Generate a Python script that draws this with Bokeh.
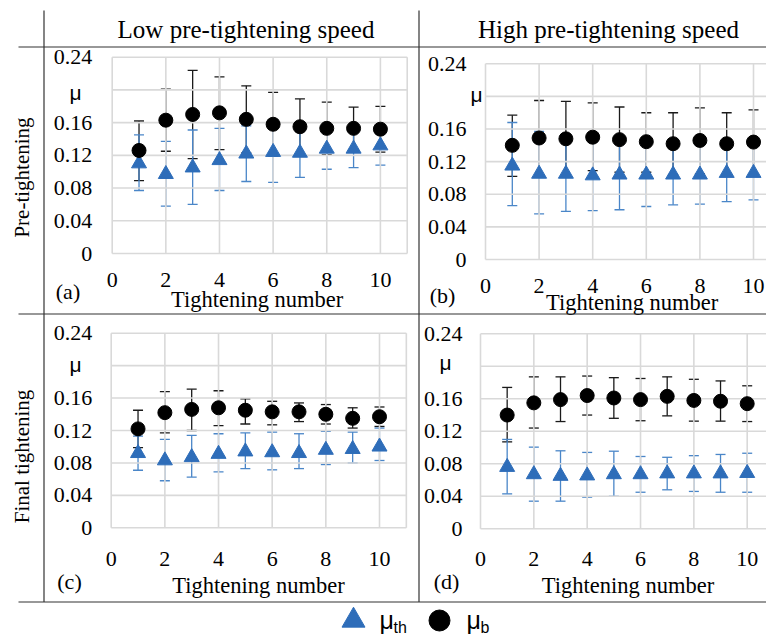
import math
from bokeh.plotting import figure
from bokeh.models import (Range1d, FixedTicker, Whisker, TeeHead, ColumnDataSource,
                          LinearAxis, NumeralTickFormatter)
from bokeh.embed import file_html
from bokeh.resources import INLINE
from bokeh.core.properties import value

# ---------------- data ----------------
tightening = [1, 2, 3, 4, 5, 6, 7, 8, 9, 10]
x_ticks = [0, 2, 4, 6, 8, 10]
x_tick_labels = ["0", "2", "4", "6", "8", "10"]
y_ticks = [0, 0.04, 0.08, 0.12, 0.16, 0.24]
y_tick_labels = ["0", "0.04", "0.08", "0.12", "0.16", "0.24"]
y_grid = [0, 0.04, 0.08, 0.12, 0.16, 0.2, 0.24]
col_titles = ["Low pre-tightening speed", "High pre-tightening speed"]
row_titles = ["Pre-tightening", "Final tightening"]
panel_tags = ["(a)", "(b)", "(c)", "(d)"]
x_title = "Tightening number"
y_symbol = "μ"
legend_subs = ["th", "b"]

# (a) low speed, pre-tightening
a_th_mean = [0.110, 0.097, 0.105, 0.114, 0.122, 0.124, 0.123, 0.128, 0.128, 0.132]
a_th_lo = [0.077, 0.058, 0.060, 0.077, 0.088, 0.087, 0.093, 0.103, 0.105, 0.108]
a_th_up = [0.145, 0.137, 0.151, 0.153, 0.156, 0.158, 0.153, 0.153, 0.151, 0.156]
a_b_mean = [0.126, 0.163, 0.170, 0.172, 0.164, 0.158, 0.155, 0.153, 0.153, 0.152]
a_b_lo = [0.089, 0.125, 0.116, 0.127, 0.123, 0.119, 0.121, 0.121, 0.127, 0.124]
a_b_up = [0.162, 0.201, 0.224, 0.216, 0.205, 0.197, 0.189, 0.185, 0.179, 0.180]

# (b) high speed, pre-tightening
b_th_mean = [0.115, 0.105, 0.105, 0.103, 0.104, 0.104, 0.104, 0.104, 0.106, 0.106]
b_th_lo = [0.066, 0.056, 0.059, 0.060, 0.061, 0.065, 0.067, 0.068, 0.071, 0.073]
b_th_up = [0.168, 0.157, 0.150, 0.146, 0.146, 0.143, 0.141, 0.140, 0.141, 0.139]
b_b_mean = [0.140, 0.149, 0.148, 0.150, 0.147, 0.1445, 0.142, 0.146, 0.142, 0.144]
b_b_lo = [0.102, 0.103, 0.102, 0.109, 0.107, 0.107, 0.104, 0.105, 0.104, 0.105]
b_b_up = [0.177, 0.195, 0.194, 0.192, 0.187, 0.180, 0.180, 0.186, 0.180, 0.1835]

# (c) low speed, final tightening
c_th_mean = [0.092, 0.083, 0.087, 0.091, 0.094, 0.093, 0.092, 0.096, 0.097, 0.100]
c_th_lo = [0.071, 0.058, 0.0625, 0.069, 0.073, 0.0715, 0.073, 0.078, 0.080, 0.083]
c_th_up = [0.113, 0.109, 0.114, 0.116, 0.117, 0.118, 0.116, 0.119, 0.118, 0.123]
c_b_mean = [0.122, 0.142, 0.146, 0.148, 0.145, 0.143, 0.143, 0.140, 0.135, 0.137]
c_b_lo = [0.099, 0.117, 0.120, 0.126, 0.128, 0.127, 0.131, 0.128, 0.123, 0.125]
c_b_up = [0.145, 0.168, 0.171, 0.169, 0.159, 0.156, 0.154, 0.152, 0.148, 0.149]

# (d) high speed, final tightening
d_th_mean = [0.076, 0.067, 0.065, 0.0655, 0.067, 0.067, 0.068, 0.068, 0.068, 0.0685]
d_th_lo = [0.043, 0.034, 0.034, 0.039, 0.040, 0.045, 0.048, 0.046, 0.045, 0.045]
d_th_up = [0.110, 0.1005, 0.096, 0.094, 0.0955, 0.089, 0.088, 0.090, 0.0915, 0.093]
d_b_mean = [0.140, 0.155, 0.159, 0.164, 0.161, 0.159, 0.163, 0.158, 0.157, 0.154]
d_b_lo = [0.107, 0.124, 0.132, 0.140, 0.136, 0.133, 0.139, 0.1325, 0.1325, 0.132]
d_b_up = [0.174, 0.187, 0.187, 0.188, 0.186, 0.185, 0.187, 0.184, 0.182, 0.176]

# ---------------- style ----------------
SERIF = "Liberation Serif"
SANS = "Liberation Sans"
BLUE = "#2e6db9"
ERR_BLUE = "#4a86c8"
ERR_BLACK = "#1a1a1a"
GRID = "#d9d9d9"
LINE = "#333333"
TICK_SIZE = "22px"

# one canvas covering the page
W, H = 766, 635
X0, Y0 = 0, 0


def Y(sy):
    return (Y0 + H) - sy


def YT(sy, size):
    # baseline position for text (compensates the renderer's baseline offset)
    return Y(sy - 0.32 * size)


p = figure(width=W, height=H, output_backend="svg", toolbar_location=None,
           x_range=Range1d(X0, X0 + W), y_range=Range1d(0, H),
           x_axis_type=None, y_axis_type=None, min_border=0)
p.outline_line_color = None
p.background_fill_color = "white"
p.border_fill_color = "white"

# panel placement: pixel of x=0 and x=10, pixel of y=0 and y=0.24
panels = [
    dict(key="a", tag=panel_tags[0], th=(a_th_mean, a_th_lo, a_th_up), b=(a_b_mean, a_b_lo, a_b_up),
         xmap=(111.7, 379.9), ymap=(253, 56.7), xgrid=[0, 2, 4, 6, 8, 10, 11], xend=11,
         x_stand=19, y_stand=20, mu=(75, 99), tag_xy=(67.5, 298), title_xy=(256.7, 306)),
    dict(key="b", tag=panel_tags[1], th=(b_th_mean, b_th_lo, b_th_up), b=(b_b_mean, b_b_lo, b_b_up),
         xmap=(485, 753), ymap=(259, 63.3), xgrid=[0, 2, 4, 6, 8, 10], xend=11,
         x_stand=19, y_stand=19, mu=(476, 101), tag_xy=(442, 302), title_xy=(631.7, 309)),
    dict(key="c", tag=panel_tags[2], th=(c_th_mean, c_th_lo, c_th_up), b=(c_b_mean, c_b_lo, c_b_up),
         xmap=(110.7, 379), ymap=(527.3, 332.7), xgrid=[0, 2, 4, 6, 8, 10, 11], xend=11,
         x_stand=24, y_stand=19, mu=(75, 371), tag_xy=(69, 588), title_xy=(258, 592)),
    dict(key="d", tag=panel_tags[3], th=(d_th_mean, d_th_lo, d_th_up), b=(d_b_mean, d_b_lo, d_b_up),
         xmap=(480, 746.7), ymap=(528.3, 333.3), xgrid=[0, 2, 4, 6, 8, 10], xend=11,
         x_stand=23, y_stand=18, mu=(445, 369), tag_xy=(446, 588), title_xy=(627.5, 592)),
]

for pn in panels:
    xs0, xs10 = pn["xmap"]
    ys0, ys24 = pn["ymap"]
    xn, yn = "x_" + pn["key"], "y_" + pn["key"]
    p.extra_x_ranges[xn] = Range1d((X0 - xs0) / (xs10 - xs0) * 10,
                                   (X0 + W - xs0) / (xs10 - xs0) * 10)
    p.extra_y_ranges[yn] = Range1d((ys0 - (Y0 + H)) / (ys0 - ys24) * 0.24,
                                   (ys0 - Y0) / (ys0 - ys24) * 0.24)

    # gridlines
    ng = len(pn["xgrid"])
    p.segment(x0=pn["xgrid"], y0=[y_grid[0]] * ng, x1=pn["xgrid"], y1=[y_grid[-1]] * ng,
              line_color=GRID, line_width=1.6, x_range_name=xn, y_range_name=yn)
    nh = len(y_grid)
    p.segment(x0=[x_ticks[0]] * nh, y0=y_grid, x1=[pn["xend"]] * nh, y1=y_grid,
              line_color=GRID, line_width=1.6, x_range_name=xn, y_range_name=yn)

    # axes (tick labels only), fixed at the panel's origin
    xa = LinearAxis(x_range_name=xn, y_range_name=yn, fixed_location=0,
                    ticker=FixedTicker(ticks=x_ticks),
                    major_label_overrides=dict(zip(x_ticks, x_tick_labels)))
    ya = LinearAxis(x_range_name=xn, y_range_name=yn, fixed_location=0,
                    ticker=FixedTicker(ticks=y_ticks),
                    formatter=NumeralTickFormatter(format="0.[00]"))
    for ax in (xa, ya):
        ax.axis_line_color = None
        ax.major_tick_line_color = None
        ax.minor_tick_line_color = None
        ax.major_tick_out = 0
        ax.major_tick_in = 0
        ax.major_label_text_font = SERIF
        ax.major_label_text_font_size = TICK_SIZE
        ax.major_label_text_color = "black"
    xa.major_label_standoff = pn["x_stand"]
    ya.major_label_standoff = pn["y_stand"]
    p.add_layout(xa, "below")
    p.add_layout(ya, "left")

    # error bars and markers
    th, b = pn["th"], pn["b"]
    src_th = ColumnDataSource(dict(x=tightening, y=th[0], lo=th[1], up=th[2]))
    src_b = ColumnDataSource(dict(x=tightening, y=b[0], lo=b[1], up=b[2]))
    for src, col in ((src_b, ERR_BLACK), (src_th, ERR_BLUE)):
        p.add_layout(Whisker(source=src, base="x", lower="lo", upper="up",
                             x_range_name=xn, y_range_name=yn,
                             line_color=col, line_width=1.3,
                             lower_head=TeeHead(size=10, line_color=col, line_width=1.3),
                             upper_head=TeeHead(size=10, line_color=col, line_width=1.3)))
    p.scatter("x", "y", source=src_th, marker="triangle", size=15,
              fill_color=BLUE, line_color=BLUE, x_range_name=xn, y_range_name=yn)
    p.scatter("x", "y", source=src_b, marker="circle", size=14,
              fill_color="black", line_color="black", x_range_name=xn, y_range_name=yn)

    # panel texts
    p.text(x=[pn["mu"][0]], y=[YT(pn["mu"][1], 21)], text=[y_symbol], text_font=value(SANS),
           text_font_size="21px", text_align="center", text_baseline="alphabetic",
           text_color="black")
    p.text(x=[pn["tag_xy"][0]], y=[YT(pn["tag_xy"][1], 22)], text=[pn["tag"]],
           text_font=value(SERIF), text_font_size="22px", text_align="center",
           text_baseline="alphabetic", text_color="black")
    p.text(x=[pn["title_xy"][0]], y=[YT(pn["title_xy"][1], 22.5)], text=[x_title],
           text_font=value(SERIF), text_font_size="22.5px", text_align="center",
           text_baseline="alphabetic", text_color="black")

# table rules
p.segment(x0=[43.5, 418.5], y0=[Y(10), Y(10)], x1=[43.5, 418.5], y1=[Y(601.5), Y(601.5)],
          line_color=LINE, line_width=1.2)
p.segment(x0=[18, 18, 18], y0=[Y(46.5), Y(313.5), Y(601.5)],
          x1=[X0 + W] * 3, y1=[Y(46.5), Y(313.5), Y(601.5)],
          line_color=LINE, line_width=1.2)

# column and row headings
p.text(x=[245.5, 608], y=[YT(37, 25), YT(37, 25)], text=col_titles, text_font=value(SERIF),
       text_font_size="25px", text_align="center", text_baseline="alphabetic",
       text_color="black")
p.text(x=[21, 21], y=[Y(177), Y(456)], text=row_titles, angle=math.pi / 2,
       text_font=value(SERIF), text_font_size="21px", text_align="center",
       text_baseline="middle", text_color="black")

# legend
p.scatter(x=[353], y=[Y(620)], marker="triangle", size=23, fill_color=BLUE, line_color=BLUE)
p.scatter(x=[439], y=[Y(620)], marker="circle", size=21, fill_color="black", line_color="black")
p.text(x=[379, 466], y=[YT(627, 25), YT(627, 25)], text=[y_symbol, y_symbol],
       text_font=value(SANS), text_font_size="25px", text_align="left",
       text_baseline="alphabetic", text_color="black")
p.text(x=[393, 480], y=[YT(632, 16), YT(632, 16)], text=legend_subs, text_font=value(SANS),
       text_font_size="16px", text_align="left", text_baseline="alphabetic", text_color="black")

open("out.html", "w").write(file_html(p, INLINE))
